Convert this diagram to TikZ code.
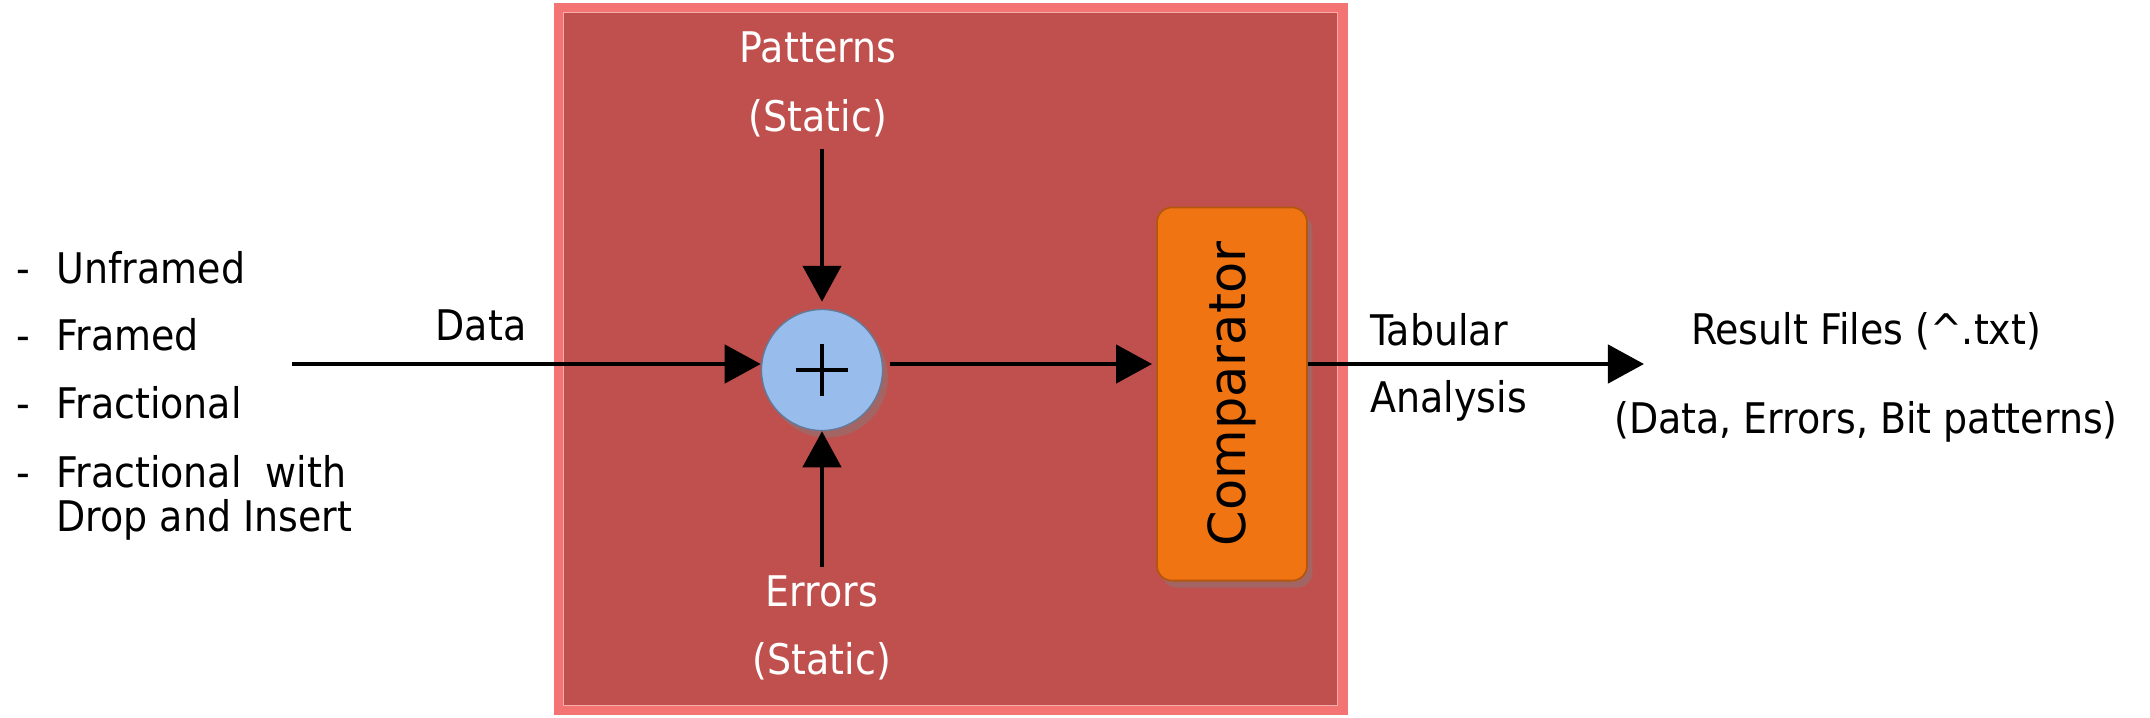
\documentclass[tikz,border=0pt]{standalone}
\usepackage{fontspec}
\setmainfont{DejaVu Sans Condensed}
\newfontfamily\compfont{DejaVu Sans}
\usetikzlibrary{arrows.meta,shadows,calc}
\definecolor{boxred}{HTML}{C0504D}
\definecolor{boxedge}{HTML}{F47474}
\definecolor{compor}{HTML}{F07412}
\definecolor{sumblue}{HTML}{98BCEC}
\begin{document}
\begin{tikzpicture}[x=0.01cm,y=-0.01cm,
  lbl/.style={font=\fontsize{12}{14}\selectfont, inner sep=0pt, anchor=base},
  llbl/.style={lbl, anchor=base west},
  wlbl/.style={lbl, text=white},
  conn/.style={line width=1.3pt, -{Triangle[length=0.36cm,width=0.38cm]}},
  sumnode/.style={circle, fill=sumblue, draw=sumblue!65!black, line width=0.4pt,
    minimum size=1.21cm, inner sep=0pt,
    drop shadow={opacity=0.45, shadow xshift=1.5pt, shadow yshift=-2pt}},
  compnode/.style={rectangle, rounded corners=0.15cm, fill=compor, draw=compor!75!black,
    line width=0.5pt, minimum width=1.5cm, minimum height=3.73cm, inner sep=0pt,
    drop shadow={opacity=0.45, shadow xshift=1.5pt, shadow yshift=-2pt}},
  framenode/.style={rectangle, fill=boxred, draw=boxedge, line width=3pt,
    minimum width=7.83cm, minimum height=7.02cm, inner sep=0pt}
]
\useasboundingbox (0,0) rectangle (2150,717);
% big red frame
\node[framenode] (frame) at (950.5,359) {};
\draw[boxedge!60!white, line width=0.5pt] ($(frame.north west)+(10,10)$) rectangle ($(frame.south east)+(-10,-10)$);

% nodes
\node[sumnode] (sum) at (822,370) {};
\draw[line width=0.9pt] ([xshift=-0.26cm]sum.center) -- ([xshift=0.26cm]sum.center);
\draw[line width=0.9pt] ([yshift=-0.26cm]sum.center) -- ([yshift=0.26cm]sum.center);

\node[compnode] (comp) at (1232,394) {\rotatebox{90}{\compfont\fontsize{14.5}{16}\selectfont Comparator}};

% coordinates for free ends
\coordinate (src) at (292,364);
\coordinate (ptop) at (822,149);
\coordinate (pbot) at (822,567);
\coordinate (dst) at (1644,364);
\coordinate (mid) at (890,364);

% connectors
\draw[conn] (src) -- (src -| sum.west);
\draw[conn, shorten >=0.07cm] (ptop) -- (sum.north);
\draw[conn] (pbot) -- (sum.south);
\draw[conn, shorten >=0.04cm] (mid) -- (mid -| comp.west);
\draw[conn] (dst -| comp.east) -- (dst);

% labels
\node[lbl] (ldata) at (481,340) {Data};
\node[wlbl] (lpat) at (818,62) {Patterns};
\node[wlbl] (lpats) at (818,131) {(Static)};
\node[wlbl] (lerr) at (822,606) {Errors};
\node[wlbl] (lerrs) at (822,674) {(Static)};
\node[llbl] (ltab) at (1370,345) {Tabular};
\node[llbl] (lana) at (1370,412) {Analysis};
\node[lbl] (lres) at (1866,344) {Result Files (\^{}.txt)};
\node[lbl] (lres2) at (1866,433) {(Data, Errors, Bit patterns)};

% list
\foreach \y/\t [count=\i] in {283/Unframed, 350/Framed, 418/Fractional, 487/Fractional\ \ with}{
  \node[llbl] (dash\i) at (16,\y) {-};
  \node[llbl] (item\i) at (56,\y) {\t};
}
\node[llbl] (item5) at (56,531) {Drop and Insert};
\end{tikzpicture}
\end{document}
